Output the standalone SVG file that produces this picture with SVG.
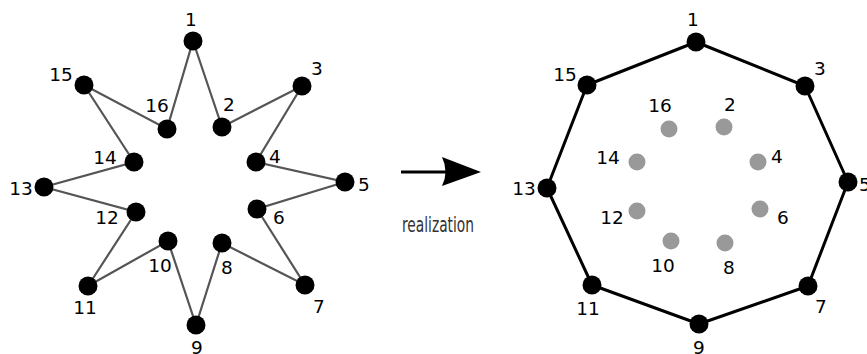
<svg xmlns="http://www.w3.org/2000/svg" width="867" height="354" viewBox="0 0 867 354">
<style>
.lbl{font-family:"DejaVu Sans",sans-serif;font-size:18.5px;fill:#000;text-anchor:middle}
.n{fill:#000}
.g{fill:#999}
.star{fill:none;stroke:#555;stroke-width:2.2;stroke-linejoin:miter}
.oct{fill:none;stroke:#000;stroke-width:3;stroke-linejoin:round}
</style>
<rect width="867" height="354" fill="#fff"/>
<g id="connectors">
<path class="star" d="M193,41 L222,127 L302,86 L256,162 L345,182 L257,209 L305,285 L222,243 L196,325 L168,241 L88,286 L136,212 L44,187 L134,162 L84,85 L167,129 Z"/>
<path class="oct" d="M696,42 L805,86 L848,182 L808,286 L699,324 L592,285 L547,188 L587,85 Z"/>
<g id="arrow">
<line x1="401" y1="172" x2="450" y2="172" stroke="#000" stroke-width="3"/>
<path d="M481,172 L442,157 Q449,172 442,186 Z" fill="#000"/>
</g>
</g>
<g id="left">
<g id="L1"><circle class="n" cx="193" cy="41" r="9.5"/><text class="lbl" x="191" y="26">1</text></g>
<g id="L2"><circle class="n" cx="222" cy="127" r="9.5"/><text class="lbl" x="229" y="111">2</text></g>
<g id="L3"><circle class="n" cx="302" cy="86" r="9.5"/><text class="lbl" x="317" y="75">3</text></g>
<g id="L4"><circle class="n" cx="256" cy="162" r="9.5"/><text class="lbl" x="275" y="163">4</text></g>
<g id="L5"><circle class="n" cx="345" cy="182" r="9.5"/><text class="lbl" x="364" y="191">5</text></g>
<g id="L6"><circle class="n" cx="257" cy="209" r="9.5"/><text class="lbl" x="279" y="224">6</text></g>
<g id="L7"><circle class="n" cx="305" cy="285" r="9.5"/><text class="lbl" x="319" y="313">7</text></g>
<g id="L8"><circle class="n" cx="222" cy="243" r="9.5"/><text class="lbl" x="227" y="274">8</text></g>
<g id="L9"><circle class="n" cx="196" cy="325" r="9.5"/><text class="lbl" x="197" y="354">9</text></g>
<g id="L10"><circle class="n" cx="168" cy="241" r="9.5"/><text class="lbl" x="160" y="272">10</text></g>
<g id="L11"><circle class="n" cx="88" cy="286" r="9.5"/><text class="lbl" x="85" y="314">11</text></g>
<g id="L12"><circle class="n" cx="136" cy="212" r="9.5"/><text class="lbl" x="107" y="224">12</text></g>
<g id="L13"><circle class="n" cx="44" cy="187" r="9.5"/><text class="lbl" x="21" y="195">13</text></g>
<g id="L14"><circle class="n" cx="134" cy="162" r="9.5"/><text class="lbl" x="105" y="164">14</text></g>
<g id="L15"><circle class="n" cx="84" cy="85" r="9.5"/><text class="lbl" x="61" y="81">15</text></g>
<g id="L16"><circle class="n" cx="167" cy="129" r="9.5"/><text class="lbl" x="157" y="112">16</text></g>
</g>
<g id="label-realization"><text x="402" y="231.5" font-family="'DejaVu Sans Condensed','DejaVu Sans',sans-serif" font-size="21" textLength="72" lengthAdjust="spacingAndGlyphs" fill="#333">realization</text></g>
<g id="right">
<g id="R1"><circle class="n" cx="696" cy="42" r="9.5"/><text class="lbl" x="693" y="26">1</text></g>
<g id="R3"><circle class="n" cx="805" cy="86" r="9.5"/><text class="lbl" x="820" y="75">3</text></g>
<g id="R5"><circle class="n" cx="848" cy="182" r="9.5"/><text class="lbl" x="865" y="191">5</text></g>
<g id="R7"><circle class="n" cx="808" cy="286" r="9.5"/><text class="lbl" x="821" y="313">7</text></g>
<g id="R9"><circle class="n" cx="699" cy="324" r="9.5"/><text class="lbl" x="699" y="354">9</text></g>
<g id="R11"><circle class="n" cx="592" cy="285" r="9.5"/><text class="lbl" x="588" y="315">11</text></g>
<g id="R13"><circle class="n" cx="547" cy="188" r="9.5"/><text class="lbl" x="524" y="195">13</text></g>
<g id="R15"><circle class="n" cx="587" cy="85" r="9.5"/><text class="lbl" x="565" y="81">15</text></g>
<g id="R2"><circle class="g" cx="724" cy="127" r="8.5"/><text class="lbl" x="730" y="111">2</text></g>
<g id="R4"><circle class="g" cx="758" cy="162" r="8.5"/><text class="lbl" x="777" y="163">4</text></g>
<g id="R6"><circle class="g" cx="760" cy="209" r="8.5"/><text class="lbl" x="783" y="224">6</text></g>
<g id="R8"><circle class="g" cx="725" cy="243" r="8.5"/><text class="lbl" x="729" y="274">8</text></g>
<g id="R10"><circle class="g" cx="671" cy="241" r="8.5"/><text class="lbl" x="663" y="272">10</text></g>
<g id="R12"><circle class="g" cx="637" cy="211" r="8.5"/><text class="lbl" x="612" y="224">12</text></g>
<g id="R14"><circle class="g" cx="637" cy="162" r="8.5"/><text class="lbl" x="608" y="164">14</text></g>
<g id="R16"><circle class="g" cx="669" cy="129" r="8.5"/><text class="lbl" x="660" y="112">16</text></g>
</g>
</svg>
